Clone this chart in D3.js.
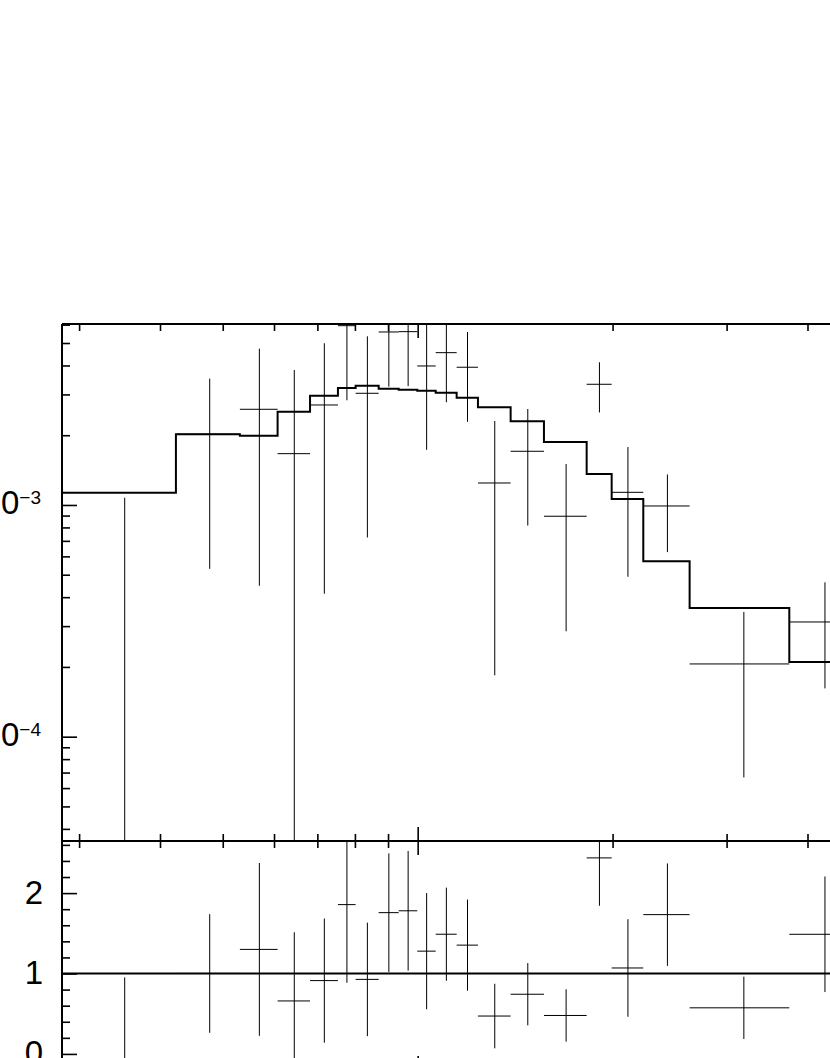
<!DOCTYPE html>
<html>
<head>
<meta charset="utf-8">
<title>spectrum + ratio</title>
<script src="https://d3js.org/d3.v7.min.js"></script>
<style>
  body { margin: 0; background: #fff; }
  svg { display: block; }
  .tick line { stroke: #000; stroke-width: 1.6; }
  .domain { display: none; }
  .lbl { font-family: "Liberation Sans", Arial, Helvetica, sans-serif; fill: #000; }
</style>
</head>
<body>
<div id="chart"></div>
<script>
// channel edges (keV)
var binEdges = [0.2823, 0.4233, 0.5314, 0.6077, 0.682, 0.7531, 0.802, 0.8705, 0.9347, 0.9986,
                1.0662, 1.1487, 1.2391, 1.3918, 1.5669, 1.8239, 1.9935, 2.2308, 2.6303, 3.7494, 4.763];

// folded model, counts/s/keV
var modelRate = [1.130e-3, 2.019e-3, 1.991e-3, 2.527e-3, 2.962e-3, 3.199e-3, 3.273e-3, 3.176e-3, 3.145e-3, 3.114e-3,
                 3.052e-3, 2.905e-3, 2.641e-3, 2.297e-3, 1.870e-3, 1.361e-3, 1.061e-3, 5.715e-4, 3.593e-4, 2.101e-4];

// data points and 1 sigma errors
var dataRate = [-4.0e-4, 2.02e-3, 2.588e-3, 1.665e-3, 2.701e-3, 5.94e-3, 3.034e-3, 5.58e-3, 5.598e-3, 3.98e-3,
                4.543e-3, 3.93e-3, 1.244e-3, 1.705e-3, 8.94e-4, 3.318e-3, 1.134e-3, 9.90e-4, 2.06e-4, 3.126e-4];
var dataErr = [1.475e-3, 1.49e-3, 2.14e-3, 2.159e-3, 2.287e-3, 3.11e-3, 2.31e-3, 2.34e-3, 2.34e-3, 2.25e-3,
               1.768e-3, 1.645e-3, 1.06e-3, 0.89e-3, 6.09e-4, 8.1e-4, 6.44e-4, 3.64e-4, 1.393e-4, 1.51e-4];

// ticks
var xMajor = [1, 10];
var xMinor = [0.3, 0.4, 0.5, 0.6, 0.7, 0.8, 0.9, 2, 3, 4, 5, 6, 7, 8, 9];
var yTopMajor = [1e-4, 1e-3];
var yTopMinor = [4e-5, 5e-5, 6e-5, 7e-5, 8e-5, 9e-5, 2e-4, 3e-4, 4e-4, 5e-4, 6e-4, 7e-4, 8e-4, 9e-4,
                 2e-3, 3e-3, 4e-3, 5e-3, 6e-3];
var yTopLabels = [{v: 1e-3, exp: "\u22123"}, {v: 1e-4, exp: "\u22124"}];
var ratioMajor = [0, 1, 2];
var ratioMinor = [0.2, 0.4, 0.6, 0.8, 1.2, 1.4, 1.6, 1.8, 2.2, 2.4, 2.6];

var W = 830, H = 1058;
var left = 62, topY = 324, midY = 841, botY = 1070, rightX = 1070;

var svg = d3.select("#chart").append("svg")
    .attr("width", W).attr("height", H);

// scales
var x = d3.scaleLog().domain([0.2823, 10]).range([left, left + 647.5 * Math.log10(10 / 0.2823)]);
var yTop = d3.scaleLog().domain([3.546e-5, 6.04e-3]).range([midY, topY]);
var yBot = d3.scaleLinear().domain([-0.2, 2.648]).range([botY, midY]);

// clip regions for the two panels
var defs = svg.append("defs");
defs.append("clipPath").attr("id", "clipTop").append("rect")
    .attr("x", left).attr("y", topY).attr("width", rightX - left).attr("height", midY - topY);
defs.append("clipPath").attr("id", "clipBot").append("rect")
    .attr("x", left).attr("y", midY).attr("width", rightX - left).attr("height", botY - midY);

// build rows
var rows = modelRate.map(function(m, i) {
  var lo = binEdges[i], hi = binEdges[i + 1];
  return {lo: lo, hi: hi, mid: (lo + hi) / 2, model: m, rate: dataRate[i], err: dataErr[i],
          ratio: dataRate[i] / m, rerr: dataErr[i] / m};
});

function ySafe(v) { return yTop(Math.max(v, 1e-7)); }

// ---- upper panel ----
var gTop = svg.append("g").attr("clip-path", "url(#clipTop)");

var stepPts = [];
rows.forEach(function(d) { stepPts.push([d.lo, d.model]); stepPts.push([d.hi, d.model]); });
gTop.append("path")
    .datum(stepPts)
    .attr("fill", "none").attr("stroke", "#000").attr("stroke-width", 2)
    .attr("d", d3.line().x(function(p) { return x(p[0]); }).y(function(p) { return yTop(p[1]); }));

var crossT = gTop.selectAll(".cross").data(rows).enter().append("g");
crossT.append("line")
    .attr("x1", function(d) { return x(d.lo); }).attr("x2", function(d) { return x(d.hi); })
    .attr("y1", function(d) { return ySafe(d.rate); }).attr("y2", function(d) { return ySafe(d.rate); })
    .attr("stroke", "#000").attr("stroke-width", 1);
crossT.append("line")
    .attr("x1", function(d) { return x(d.mid); }).attr("x2", function(d) { return x(d.mid); })
    .attr("y1", function(d) { return ySafe(d.rate - d.err); }).attr("y2", function(d) { return ySafe(d.rate + d.err); })
    .attr("stroke", "#000").attr("stroke-width", 1);

// ---- lower panel (ratio) ----
var gBot = svg.append("g").attr("clip-path", "url(#clipBot)");
gBot.append("line")
    .attr("x1", left).attr("x2", rightX).attr("y1", yBot(1)).attr("y2", yBot(1))
    .attr("stroke", "#000").attr("stroke-width", 2);

var crossB = gBot.selectAll(".cross").data(rows).enter().append("g");
crossB.append("line")
    .attr("x1", function(d) { return x(d.lo); }).attr("x2", function(d) { return x(d.hi); })
    .attr("y1", function(d) { return yBot(d.ratio); }).attr("y2", function(d) { return yBot(d.ratio); })
    .attr("stroke", "#000").attr("stroke-width", 1);
crossB.append("line")
    .attr("x1", function(d) { return x(d.mid); }).attr("x2", function(d) { return x(d.mid); })
    .attr("y1", function(d) { return yBot(d.ratio - d.rerr); }).attr("y2", function(d) { return yBot(d.ratio + d.rerr); })
    .attr("stroke", "#000").attr("stroke-width", 1);

// ---- axes / ticks ----
function xTicks(y0, dir) {
  // dir = 1 ticks go down, -1 up
  svg.append("g").attr("transform", "translate(0," + y0 + ")")
      .call(d3.axisBottom(x).tickValues(xMinor).tickSize(7 * dir).tickSizeOuter(0).tickFormat(""));
  svg.append("g").attr("transform", "translate(0," + y0 + ")")
      .call(d3.axisBottom(x).tickValues(xMajor).tickSize(14 * dir).tickSizeOuter(0).tickFormat(""));
}
xTicks(topY, 1);
xTicks(midY, -1);
xTicks(midY, 1);
xTicks(botY, -1);

function yTicks(scale, minor, major) {
  svg.append("g").attr("transform", "translate(" + left + ",0)")
      .call(d3.axisLeft(scale).tickValues(minor).tickSize(-8).tickSizeOuter(0).tickFormat(""));
  svg.append("g").attr("transform", "translate(" + left + ",0)")
      .call(d3.axisLeft(scale).tickValues(major).tickSize(-15).tickSizeOuter(0).tickFormat(""));
}
yTicks(yTop, yTopMinor, yTopMajor);
yTicks(yBot, ratioMinor, ratioMajor);

// frame
var frame = svg.append("g").attr("stroke", "#000").attr("stroke-width", 2).attr("fill", "none");
frame.append("line").attr("x1", left).attr("x2", rightX).attr("y1", topY).attr("y2", topY);
frame.append("line").attr("x1", left).attr("x2", rightX).attr("y1", midY).attr("y2", midY);
frame.append("line").attr("x1", left).attr("x2", rightX).attr("y1", botY).attr("y2", botY);
frame.append("line").attr("x1", left).attr("x2", left).attr("y1", topY).attr("y2", botY);

// tick labels
yTopLabels.forEach(function(l) {
  var t = svg.append("text").attr("class", "lbl")
      .attr("x", 41).attr("y", yTop(l.v) + 9.5)
      .attr("text-anchor", "end").style("font-size", "33px");
  t.append("tspan").text("10");
  t.append("tspan").attr("dy", -10).style("font-size", "19px").text(l.exp);
});
ratioMajor.forEach(function(v) {
  svg.append("text").attr("class", "lbl")
      .attr("x", 43).attr("y", yBot(v) + 10.5)
      .attr("text-anchor", "end").style("font-size", "33px")
      .text(v);
});
</script>
</body>
</html>
